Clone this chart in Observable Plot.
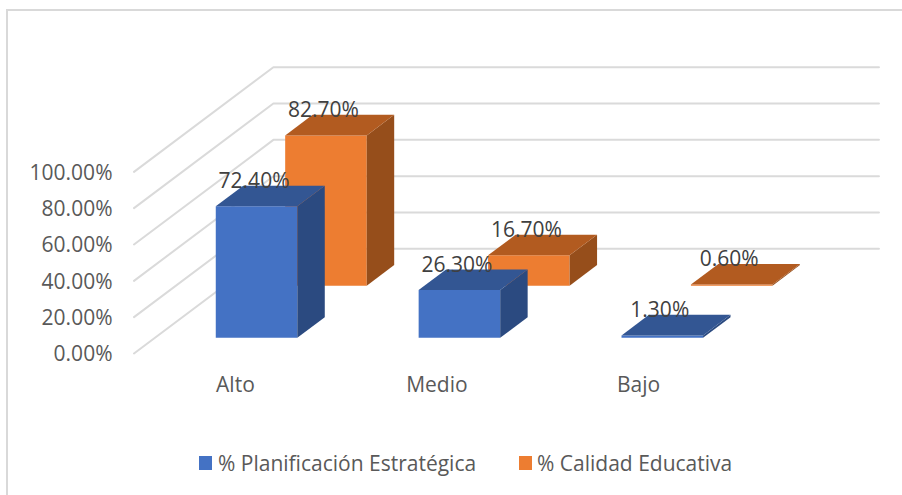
<!DOCTYPE html>
<html><head><meta charset="utf-8">
<script src="https://cdn.jsdelivr.net/npm/d3@7"></script>
<script src="https://cdn.jsdelivr.net/npm/@observablehq/plot@0.6"></script>
<style>
html,body{margin:0;padding:0;background:#fff;width:902px;height:495px;overflow:hidden}
#wrap{position:relative;width:902px;height:495px;font-family:"Open Sans",sans-serif}
#frame{position:absolute;left:6px;top:9px;right:0;bottom:0;border-left:2px solid #d9d9d9;border-top:2px solid #d9d9d9;box-sizing:border-box}
#chart{position:absolute;left:0;top:0}
#legend{position:absolute;top:449px;left:0;width:902px;height:28px;color:#595959;font-size:21px;line-height:28px}
#legend span{position:absolute;white-space:nowrap}
#legend i{position:absolute;width:13px;height:14px;top:7px}
</style></head><body>
<div id="wrap"><div id="frame"></div><div id="chart"></div>
<div id="legend">
<i style="left:199px;background:#4472C4"></i><span style="left:218px">% Planificación Estratégica</span>
<i style="left:519px;background:#ED7D31"></i><span style="left:537px">% Calidad Educativa</span>
</div></div>
<script>
const categories = ["Alto","Medio","Bajo"];
const planificacion = [72.4,26.3,1.3];
const calidad = [82.7,16.7,0.6];
const valueTicks = [0,20,40,60,80,100];
const categoryTicks = [0.5,1.493,2.487];
const blueFaces = {front:"#4472C4",top:"#335693",side:"#2B4A80"};
const orangeFaces = {front:"#ED7D31",top:"#B25B20",side:"#964E1B"};
const depthX = 0.687;   // floor depth in category units
const depthY = 57.6;    // floor depth in value units
const wallEnd = 2.985;
const barOffset = 0.3, barWidth = 0.402, barDepth = 0.197;
const rows = [{values:calidad,start:0.648,faces:orangeFaces},{values:planificacion,start:0.15,faces:blueFaces}];

const px = (c,d)=>c+d*depthX, py=(v,d)=>v+d*depthY;
const polys=[]; const labels=[];
let id=0;
function add(points,color){id++;for(const [c,v,d] of points)polys.push({x:px(c,d),y:py(v,d),id,color});}
for(const r of rows){
  r.values.forEach((v,i)=>{
    const a=i+barOffset,b=a+barWidth,d0=r.start,d1=d0+barDepth;
    add([[a,0,d0],[b,0,d0],[b,v,d0],[a,v,d0]],r.faces.front);
    add([[b,0,d0],[b,0,d1],[b,v,d1],[b,v,d0]],r.faces.side);
    add([[a,v,d0],[b,v,d0],[b,v,d1],[a,v,d1]],r.faces.top);
    labels.push({x:px((a+b)/2,d0),y:py(v,d0),text:v.toFixed(2)+"%"});
  });
}
const grid=valueTicks.flatMap(v=>[
  {x:px(0,0),y:py(v,0),v},{x:px(0,1),y:py(v,1),v},{x:px(wallEnd,1),y:py(v,1),v}]);

const plot=Plot.plot({
  width:902,height:430,marginLeft:133.5,marginRight:20.5,marginTop:66.7,marginBottom:77,
  x:{domain:[0,3+depthX]},
  y:{domain:[0,100+depthY]},
  color:{type:"identity"},
  style:{background:"transparent",fontFamily:'"Open Sans",sans-serif',overflow:"visible"},
  marks:[
    Plot.line(grid,{x:"x",y:"y",z:"v",stroke:"#dadada",strokeWidth:2}),
    Plot.line(polys,{x:"x",y:"y",z:"id",fill:"color",stroke:"none"}),
    Plot.axisY({ticks:valueTicks,tickSize:0,tickPadding:21.5,label:null,fontSize:21,dy:1,color:"#595959",tickFormat:d=>d.toFixed(2)+"%"}),
    Plot.axisX({ticks:categoryTicks,tickSize:0,tickPadding:23.5,label:null,fontSize:21,color:"#595959",tickFormat:d=>categories[Math.floor(d)]}),
    Plot.text(labels,{x:"x",y:"y",text:"text",dx:-2.5,dy:-25,fontSize:21,fill:"#404040"})
  ]
});
document.getElementById("chart").append(plot);
</script></body></html>
